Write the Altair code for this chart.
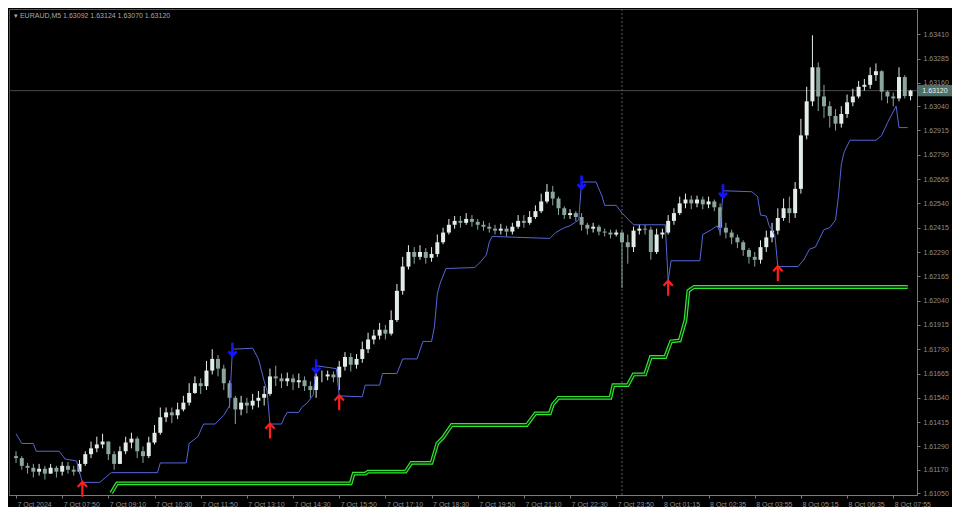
import json
import altair as alt
import pandas as pd

# ---------------- data (EURAUD M5, 10-minute sampling) ----------------
symbol = "EURAUD,M5"
first_open = 1.61240
close = [1.61230, 1.61190, 1.61180, 1.61160, 1.61175, 1.61150, 1.61180, 1.61160, 1.61190, 1.61170,
         1.61160, 1.61200, 1.61250, 1.61280, 1.61300, 1.61315, 1.61250, 1.61200, 1.61265, 1.61310,
         1.61330, 1.61265, 1.61240, 1.61310, 1.61360, 1.61440, 1.61465, 1.61450, 1.61480, 1.61515,
         1.61565, 1.61615, 1.61600, 1.61680, 1.61740, 1.61690, 1.61615, 1.61540, 1.61480, 1.61515,
         1.61500, 1.61525, 1.61540, 1.61560, 1.61650, 1.61640, 1.61625, 1.61640, 1.61620, 1.61630,
         1.61600, 1.61580, 1.61650, 1.61650, 1.61660, 1.61645, 1.61700, 1.61750, 1.61710, 1.61740,
         1.61790, 1.61840, 1.61860, 1.61890, 1.61870, 1.61940, 1.62090, 1.62215, 1.62290, 1.62265,
         1.62290, 1.62260, 1.62280, 1.62340, 1.62390, 1.62430, 1.62450, 1.62440, 1.62460, 1.62445,
         1.62430, 1.62420, 1.62410, 1.62400, 1.62410, 1.62395, 1.62420, 1.62450, 1.62440, 1.62470,
         1.62500, 1.62550, 1.62600, 1.62565, 1.62515, 1.62480, 1.62490, 1.62470, 1.62430, 1.62410,
         1.62420, 1.62395, 1.62390, 1.62380, 1.62390, 1.62340, 1.62315, 1.62400, 1.62410, 1.62405,
         1.62290, 1.62380, 1.62390, 1.62450, 1.62490, 1.62540, 1.62560, 1.62540, 1.62560, 1.62535,
         1.62550, 1.62520, 1.62415, 1.62390, 1.62365, 1.62340, 1.62300, 1.62265, 1.62250, 1.62315,
         1.62365, 1.62400, 1.62465, 1.62515, 1.62490, 1.62615, 1.62890, 1.63065, 1.63240, 1.63090,
         1.63040, 1.62990, 1.62950, 1.63000, 1.63060, 1.63090, 1.63140, 1.63150, 1.63200, 1.63220,
         1.63115, 1.63090, 1.63080, 1.63190, 1.63092, 1.63120]
high = [1.61265, 1.61240, 1.61205, 1.61200, 1.61200, 1.61190, 1.61200, 1.61190, 1.61210, 1.61210,
        1.61190, 1.61220, 1.61265, 1.61315, 1.61340, 1.61355, 1.61315, 1.61265, 1.61290, 1.61340,
        1.61360, 1.61340, 1.61290, 1.61340, 1.61400, 1.61490, 1.61490, 1.61490, 1.61515, 1.61550,
        1.61615, 1.61650, 1.61640, 1.61730, 1.61790, 1.61760, 1.61710, 1.61630, 1.61550, 1.61550,
        1.61540, 1.61560, 1.61575, 1.61600, 1.61690, 1.61705, 1.61665, 1.61670, 1.61660, 1.61665,
        1.61650, 1.61625, 1.61700, 1.61680, 1.61680, 1.61675, 1.61730, 1.61775, 1.61770, 1.61765,
        1.61830, 1.61875, 1.61890, 1.61925, 1.61915, 1.61990, 1.62125, 1.62265, 1.62325, 1.62315,
        1.62325, 1.62310, 1.62315, 1.62380, 1.62415, 1.62460, 1.62475, 1.62475, 1.62490, 1.62480,
        1.62460, 1.62450, 1.62440, 1.62430, 1.62435, 1.62425, 1.62440, 1.62480, 1.62480, 1.62500,
        1.62530, 1.62590, 1.62640, 1.62630, 1.62575, 1.62525, 1.62510, 1.62500, 1.62490, 1.62440,
        1.62440, 1.62430, 1.62410, 1.62405, 1.62405, 1.62400, 1.62380, 1.62420, 1.62430, 1.62430,
        1.62420, 1.62410, 1.62410, 1.62480, 1.62515, 1.62575, 1.62590, 1.62580, 1.62580, 1.62575,
        1.62575, 1.62560, 1.62540, 1.62440, 1.62405, 1.62380, 1.62350, 1.62310, 1.62290, 1.62350,
        1.62400, 1.62440, 1.62515, 1.62565, 1.62575, 1.62650, 1.62975, 1.63140, 1.63405, 1.63265,
        1.63150, 1.63065, 1.63025, 1.63040, 1.63100, 1.63130, 1.63170, 1.63180, 1.63240, 1.63260,
        1.63225, 1.63120, 1.63110, 1.63240, 1.63200, 1.63124]
low = [1.61205, 1.61170, 1.61150, 1.61130, 1.61140, 1.61120, 1.61150, 1.61130, 1.61140, 1.61150,
       1.61140, 1.61150, 1.61190, 1.61230, 1.61260, 1.61280, 1.61220, 1.61170, 1.61200, 1.61250,
       1.61280, 1.61230, 1.61205, 1.61230, 1.61300, 1.61350, 1.61415, 1.61410, 1.61430, 1.61470,
       1.61500, 1.61560, 1.61560, 1.61580, 1.61660, 1.61650, 1.61580, 1.61490, 1.61405, 1.61450,
       1.61460, 1.61480, 1.61490, 1.61500, 1.61550, 1.61600, 1.61590, 1.61600, 1.61580, 1.61590,
       1.61575, 1.61540, 1.61540, 1.61620, 1.61630, 1.61620, 1.61580, 1.61680, 1.61675, 1.61690,
       1.61720, 1.61770, 1.61815, 1.61840, 1.61840, 1.61860, 1.61930, 1.62070, 1.62200, 1.62230,
       1.62250, 1.62230, 1.62240, 1.62265, 1.62330, 1.62380, 1.62410, 1.62415, 1.62430, 1.62420,
       1.62405, 1.62400, 1.62390, 1.62380, 1.62380, 1.62370, 1.62380, 1.62410, 1.62415, 1.62430,
       1.62460, 1.62490, 1.62540, 1.62530, 1.62480, 1.62460, 1.62460, 1.62450, 1.62400, 1.62380,
       1.62390, 1.62375, 1.62370, 1.62360, 1.62370, 1.62105, 1.62230, 1.62290, 1.62380, 1.62380,
       1.62250, 1.62280, 1.62360, 1.62380, 1.62430, 1.62480, 1.62515, 1.62510, 1.62520, 1.62510,
       1.62515, 1.62500, 1.62375, 1.62360, 1.62330, 1.62310, 1.62270, 1.62230, 1.62215, 1.62230,
       1.62290, 1.62340, 1.62380, 1.62450, 1.62440, 1.62465, 1.62590, 1.62870, 1.63040, 1.63015,
       1.62980, 1.62930, 1.62915, 1.62930, 1.62980, 1.63040, 1.63080, 1.63120, 1.63130, 1.63170,
       1.63070, 1.63055, 1.63040, 1.63065, 1.63080, 1.63070]
bar_index = [2 * j for j in range(len(close))]  # position in M5 bars

# trailing-stop line (blue)
stop_idx = [0, 2, 6, 7, 15, 17, 21, 23, 29, 31, 33, 49, 50, 59, 60, 63, 65, 69, 72, 74,
            75, 82, 84, 86, 87, 88, 92, 93, 94, 98, 99, 101, 103, 104, 111, 112, 120, 121, 126, 127,
            132, 134, 139, 141, 144, 145, 146, 147, 149, 159, 161, 163, 164, 165, 185, 187, 190, 192, 195, 196,
            201, 203, 204, 208, 210, 214, 225, 226, 227, 237, 238, 241, 243, 244, 245, 255, 257, 258, 260, 261,
            263, 264, 271, 273, 275, 277, 280, 282, 284, 285, 286, 287, 289, 298, 300, 302, 305, 306, 309]
stop_val = [1.61355, 1.61305, 1.61305, 1.61265, 1.61265, 1.61225, 1.61215, 1.61105, 1.61105, 1.61130,
            1.61155, 1.61155, 1.61205, 1.61205, 1.61305, 1.61340, 1.61405, 1.61405, 1.61450, 1.61500,
            1.61790, 1.61795, 1.61740, 1.61625, 1.61575, 1.61405, 1.61405, 1.61440, 1.61465, 1.61465,
            1.61490, 1.61515, 1.61555, 1.61705, 1.61690, 1.61550, 1.61545, 1.61605, 1.61605, 1.61665,
            1.61665, 1.61740, 1.61740, 1.61830, 1.61830, 1.61905, 1.62075, 1.62130, 1.62205, 1.62210,
            1.62240, 1.62275, 1.62340, 1.62370, 1.62360, 1.62390, 1.62415, 1.62425, 1.62455, 1.62650,
            1.62650, 1.62580, 1.62530, 1.62530, 1.62490, 1.62430, 1.62430, 1.62140, 1.62245, 1.62245,
            1.62380, 1.62405, 1.62425, 1.62390, 1.62605, 1.62600, 1.62575, 1.62480, 1.62475, 1.62425,
            1.62375, 1.62215, 1.62215, 1.62250, 1.62305, 1.62315, 1.62405, 1.62415, 1.62455, 1.62575,
            1.62740, 1.62805, 1.62865, 1.62865, 1.62890, 1.62955, 1.63040, 1.62930, 1.62930]

# slow stepped line (green)
trend_idx = [33, 35, 116, 117, 121, 122, 135, 137, 144, 146, 148, 151, 177, 180, 185,
             186, 188, 206, 207, 212, 214, 218, 220, 225, 227, 230, 232, 233, 235, 309]
trend_val = [1.61050, 1.61100, 1.61100, 1.61150, 1.61150, 1.61160, 1.61160, 1.61205, 1.61205, 1.61305,
             1.61335, 1.61400, 1.61400, 1.61460, 1.61460, 1.61505, 1.61540, 1.61540, 1.61605, 1.61605,
             1.61660, 1.61660, 1.61750, 1.61750, 1.61830, 1.61835, 1.61940, 1.62090, 1.62110, 1.62110]

# signals
buy_idx = [23, 88, 112, 226, 264]
buy_val = [1.61105, 1.61405, 1.61550, 1.62140, 1.62215]
sell_idx = [75, 104, 196, 245]
sell_val = [1.61790, 1.61705, 1.62650, 1.62605]

# crosshair
cross_idx = 210
cross_price = 1.63120

# axes
time_tick_idx = [16 * k for k in range(20)]
time_labels = ["7 Oct 2024", "7 Oct 07:50", "7 Oct 09:10", "7 Oct 10:30", "7 Oct 11:50",
               "7 Oct 13:10", "7 Oct 14:30", "7 Oct 15:50", "7 Oct 17:10", "7 Oct 18:30",
               "7 Oct 19:50", "7 Oct 21:10", "7 Oct 22:30", "7 Oct 23:50", "8 Oct 01:15",
               "8 Oct 02:35", "8 Oct 03:55", "8 Oct 05:15", "8 Oct 06:35", "8 Oct 07:55"]
price_ticks = [1.61050, 1.61170, 1.61290, 1.61415, 1.61540, 1.61665, 1.61790, 1.61915, 1.62040, 1.62165,
               1.62290, 1.62415, 1.62540, 1.62665, 1.62790, 1.62915, 1.63040, 1.63160, 1.63285, 1.63410]

# ---------------- chart ----------------
W, H = 908, 486
FONT = "Liberation Sans"
opens = [first_open] + close[:-1]
candles = pd.DataFrame({"i": bar_index, "open": opens, "high": high, "low": low, "close": close})
candles["dir"] = ["up" if c >= o else "down" for o, c in zip(opens, close)]

stop_df = pd.DataFrame({"i": stop_idx, "p": stop_val})
trend_df = pd.DataFrame({"i": trend_idx, "p": trend_val})
buy_df = pd.DataFrame({"i": buy_idx, "p": buy_val})
sell_df = pd.DataFrame({"i": sell_idx, "p": sell_val})
cross_df = pd.DataFrame({"i": [cross_idx], "p": [cross_price], "label": [f"{cross_price:.5f}"]})
head_df = pd.DataFrame({"t": [f"\u25be {symbol}  {opens[-1]:.5f} {high[-1]:.5f} {low[-1]:.5f} {close[-1]:.5f}"]})

xscale = alt.Scale(domain=[-0.7, 310.5], nice=False, zero=False)
yscale = alt.Scale(domain=[1.6104, 1.6354], nice=False, zero=False)
xaxis = alt.Axis(values=time_tick_idx, title=None, grid=False,
                 labelExpr=f"{json.dumps(time_labels)}[round(datum.value / 16)]",
                 labelAlign="left", labelPadding=2, labelOffset=1, labelOverlap=False,
                 labelBound=False, labelFlush=False)
yaxis = alt.Axis(values=price_ticks, title=None, grid=False, format=".5f", orient="right",
                 labelPadding=3, labelOverlap=False, labelFlush=False)


def X(field="i"):
    return alt.X(f"{field}:Q", scale=xscale, axis=xaxis)


def Y(field="p"):
    return alt.Y(f"{field}:Q", scale=yscale, axis=yaxis)


color = alt.Color("dir:N", scale=alt.Scale(domain=["up", "down"], range=["#e2ede8", "#8aa69d"]), legend=None)

hline = alt.Chart(cross_df).mark_rule(color="#4b4b4b", strokeWidth=1).encode(y=Y())
vline = alt.Chart(cross_df).mark_rule(color="#5a5a5a", strokeWidth=1, strokeDash=[2, 2]).encode(x=X())

wicks = alt.Chart(candles).mark_rule(strokeWidth=1).encode(x=X(), y=Y("low"), y2="high:Q", color=color)
bodies = alt.Chart(candles).mark_bar(width=4, minBandSize=1).encode(x=X(), y=Y("open"), y2="close:Q", color=color)

stop_line = alt.Chart(stop_df).mark_line(color="#5566d8", strokeWidth=1).encode(x=X(), y=Y())
trend_outer = alt.Chart(trend_df).mark_line(color="#33e633", strokeWidth=3.8).encode(x=X(), y=Y())
trend_inner = alt.Chart(trend_df).mark_line(color="#041f04", strokeWidth=1.4).encode(x=X(), y=Y())

UP = "M0,1 L0,-1 M-0.62,-0.32 L0,-1 L0.62,-0.32"
DOWN = "M0,-1 L0,1 M-0.62,0.32 L0,1 L0.62,0.32"
buys = alt.Chart(buy_df).mark_point(shape=UP, filled=False, size=225, strokeWidth=2.2,
                                    color="#ff1e1e", opacity=1, yOffset=7).encode(x=X(), y=Y())
sells = alt.Chart(sell_df).mark_point(shape=DOWN, filled=False, size=169, strokeWidth=2.6,
                                      color="#1414ff", opacity=1, yOffset=0).encode(x=X(), y=Y())

BOX = "M-1,-0.33 L1,-0.33 L1,0.33 L-1,0.33 Z"
price_box = alt.Chart(cross_df).mark_point(shape=BOX, filled=True, size=1156, color="#4f6e67",
                                           opacity=1).encode(x=alt.value(W + 18), y=Y())
price_txt = alt.Chart(cross_df).mark_text(fontSize=7, font=FONT, color="#e8f0ee", align="center",
                                          baseline="middle").encode(x=alt.value(W + 18), y=Y(), text="label:N")

header = alt.Chart(head_df).mark_text(fontSize=7, font=FONT, color="#a4aaa8", align="left",
                                      baseline="middle").encode(x=alt.value(5), y=alt.value(7), text="t:N")

chart = alt.layer(hline, vline, wicks, bodies, stop_line, trend_outer, trend_inner,
                  buys, sells, price_box, price_txt, header).properties(
    width=W, height=H, background="#000000", padding=0
).configure_view(stroke="#555555", strokeWidth=1).configure_axis(
    domainColor="#7a7a7a", tickColor="#7a7a7a", tickSize=3, labelColor="#8f8f8f",
    labelFont=FONT, labelFontSize=7
)

chart.save("out.html", embed_options={"renderer": "svg", "actions": False})
